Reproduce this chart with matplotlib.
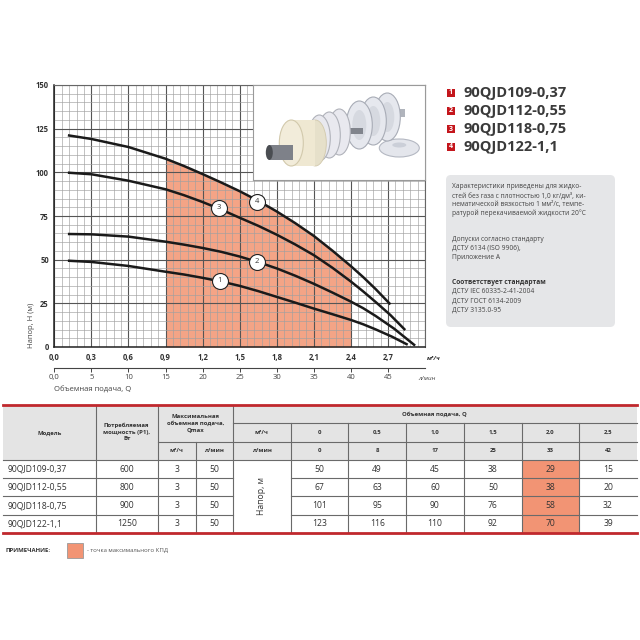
import numpy as np
import matplotlib
matplotlib.use("Agg")
import matplotlib.pyplot as plt
from matplotlib.patches import Rectangle, Ellipse, FancyBboxPatch
from matplotlib.ticker import FixedLocator, MultipleLocator, FuncFormatter

plt.rcParams['font.family'] = ['Open Sans', 'DejaVu Sans']

# ---- curves (Q in m3/h, H in m) ----
q1 = [0.11, 0.3, 0.6, 0.9, 1.05, 1.2, 1.35, 1.5, 1.65, 1.8, 1.95, 2.1, 2.25, 2.4, 2.5, 2.6, 2.73, 2.86]
h1 = [49.4, 48.7, 46.4, 43.1, 41.5, 39.6, 37.5, 35.0, 32.0, 28.7, 25.4, 22.0, 18.8, 15.5, 13.0, 10.1, 6.0, 1.3]
q2 = [0.11, 0.3, 0.6, 0.9, 1.05, 1.2, 1.35, 1.5, 1.65, 1.8, 1.95, 2.1, 2.25, 2.4, 2.5, 2.6, 2.75, 2.92]
h2 = [64.7, 64.5, 63.2, 60.3, 58.6, 56.7, 54.5, 51.8, 48.6, 45.0, 40.8, 36.2, 31.2, 26.0, 22.2, 17.8, 10.5, 0.8]
q3 = [0.11, 0.3, 0.6, 0.9, 1.05, 1.2, 1.35, 1.5, 1.65, 1.8, 1.95, 2.1, 2.25, 2.4, 2.5, 2.6, 2.72, 2.84]
h3 = [99.8, 98.9, 95.2, 90.3, 86.9, 83.0, 78.7, 74.0, 69.4, 64.3, 58.7, 52.6, 45.4, 37.5, 31.8, 25.8, 18.3, 9.7]
q4 = [0.11, 0.3, 0.6, 0.9, 1.05, 1.2, 1.35, 1.5, 1.65, 1.8, 1.95, 2.1, 2.25, 2.4, 2.5, 2.6, 2.72]
h4 = [121.2, 119.1, 114.5, 107.8, 103.6, 99.0, 94.2, 89.2, 83.7, 77.6, 70.9, 63.6, 55.2, 46.3, 40.0, 33.2, 24.4]

curve_ids = ['1', '2', '3', '4']
label_q = [1.34, 1.64, 1.335, 1.64]
label_h = [37.8, 48.8, 79.6, 83.2]

best_q = [0.9, 2.4]   # shaded zone

models = ['90QJD109-0,37', '90QJD112-0,55', '90QJD118-0,75', '90QJD122-1,1']
power = ['600', '800', '900', '1250']
qmax_m3 = ['3', '3', '3', '3']
qmax_lmin = ['50', '50', '50', '50']
q_m3_cols = ['0', '0,5', '1,0', '1,5', '2,0', '2,5']
q_lmin_cols = ['0', '8', '17', '25', '33', '42']
heads = [[50, 49, 45, 38, 29, 15],
         [67, 63, 60, 50, 38, 20],
         [101, 95, 90, 76, 58, 32],
         [123, 116, 110, 92, 70, 39]]
best_col = 4

info1 = ['Характеристики приведены для жидко-',
         'стей без газа с плотностью 1,0 кг/дм³, ки-',
         'нематической вязкостью 1 мм²/с, темпе-',
         'ратурой перекачиваемой жидкости 20°С']
info2 = ['Допуски согласно стандарту', 'ДСТУ 6134 (ISO 9906),', 'Приложение А']
info3 = ['Соответствует стандартам', 'ДСТУ IEC 60335-2-41-2004',
         'ДСТУ ГОСТ 6134-2009', 'ДСТУ 3135.0-95']

SALMON = '#F4A486'
SALMON_T = '#F29474'
RED = '#C4161C'
TXT = '#333333'

W = H = 640
fig = plt.figure(figsize=(6.4, 6.4), dpi=100)

# page layer in pixel coordinates
page = fig.add_axes([0, 0, 1, 1])
page.set_xlim(0, W)
page.set_ylim(H, 0)
page.axis('off')

# ---- main chart ----
L, R, T, B = 54.3, 425.0, 85.0, 347.0
ax = fig.add_axes([L / W, (H - B) / H, (R - L) / W, (B - T) / H])
ax.set_xlim(0, 3.0)
ax.set_ylim(0, 150)
ax.set_axisbelow(True)

major_q = [round(0.3 * i, 1) for i in range(11)]
ax.xaxis.set_major_locator(FixedLocator(major_q))
ax.xaxis.set_minor_locator(MultipleLocator(0.06))
ax.yaxis.set_major_locator(MultipleLocator(25))
ax.yaxis.set_minor_locator(MultipleLocator(5))
ax.xaxis.set_major_formatter(FuncFormatter(
    lambda v, p: '' if v > 2.95 else f'{v:.1f}'.replace('.', ',')))
ax.grid(which='minor', color='#a0a0a0', lw=0.45)
ax.grid(which='major', color='#555555', lw=0.8)
ax.tick_params(which='both', length=0)
ax.tick_params(axis='x', pad=4, labelsize=5.5, labelcolor=TXT)
ax.tick_params(axis='y', pad=4, labelsize=5.5, labelcolor=TXT)
for lab in ax.get_xticklabels() + ax.get_yticklabels():
    lab.set_fontweight('bold')
for s in ['left', 'bottom']:
    ax.spines[s].set_color('#222222')
    ax.spines[s].set_linewidth(1.1)
for s in ['top', 'right']:
    ax.spines[s].set_color('#666666')
    ax.spines[s].set_linewidth(0.8)

i0, i1 = q4.index(best_q[0]), q4.index(best_q[1])
ax.fill_between(q4[i0:i1 + 1], 0, h4[i0:i1 + 1], color=SALMON, lw=0, zorder=0.2)

for qq, hh in [(q1, h1), (q2, h2), (q3, h3), (q4, h4)]:
    ax.plot(qq, hh, color='#1a1a1a', lw=1.8, solid_capstyle='butt', solid_joinstyle='round', zorder=2)

for cid, lq, lh in zip(curve_ids, label_q, label_h):
    ax.plot(lq, lh, 'o', ms=11.5, mfc='white', mec='#222222', mew=0.8, zorder=3)
    ax.text(lq, lh, cid, ha='center', va='center', fontsize=5.5, color=TXT, zorder=4)

# l/min scale
sec = ax.secondary_xaxis(-0.079, functions=(lambda q: q * 50 / 3, lambda l: l * 3 / 50))
sec.xaxis.set_major_locator(FixedLocator([0, 5, 10, 15, 20, 25, 30, 35, 40, 45]))
sec.xaxis.set_major_formatter(FuncFormatter(lambda v, p: '0,0' if v == 0 else f'{v:.0f}'))
sec.tick_params(length=3, width=0.7, color='#444444', pad=1.5, labelsize=5.5, labelcolor='#444444')
sec.spines['bottom'].set_color('#444444')
sec.spines['bottom'].set_linewidth(0.8)

page.text(427, 358.5, 'м³/ч', fontsize=4.5, style='italic', fontweight='bold', color=TXT, va='center')
page.text(418, 378.5, 'л/мин', fontsize=4.5, style='italic', color='#444444', va='center')
page.text(54, 390, 'Объемная подача, Q', fontsize=5.5, color='#444444', va='center')
page.text(31.5, 325, 'Напор, H (м)', fontsize=5.5, color='#444444', rotation=90, ha='center', va='center')

# ---- picture of the pump parts (sketch) ----
ins = fig.add_axes([253.3 / W, (H - 180) / H, 171.7 / W, 95 / H])
ins.set_xlim(0, 171.7)
ins.set_ylim(95, 0)
ins.set_xticks([])
ins.set_yticks([])
for s in ins.spines.values():
    s.set_color('#9a9a9a')
    s.set_linewidth(0.8)
ins.add_patch(Ellipse((146, 63), 40, 18, fc='#E4E6EC', ec='#B4B8C2', lw=0.8))
ins.add_patch(Ellipse((146, 60), 14, 5, fc='#CBCFD8', ec='none'))
ins.add_patch(Rectangle((138, 24), 14, 8, fc='#B0B4BC', ec='none'))
for cx, cy in [(134, 32), (120, 36), (106, 40)]:
    ins.add_patch(Ellipse((cx, cy), 26, 48, fc='#E6E8EE', ec='#A8ACB6', lw=0.8))
    ins.add_patch(Ellipse((cx, cy), 14, 30, fc='#D6D9E0', ec='none'))
ins.add_patch(Rectangle((88, 43), 22, 6, fc='#80848C', ec='none'))
for cx, cy in [(86, 47), (76, 50), (66, 53)]:
    ins.add_patch(Ellipse((cx, cy), 22, 46, fc='#E9E9EF', ec='#B0B2BA', lw=0.8))
ins.add_patch(Ellipse((62, 58), 22, 46, fc='#E6E0CA', ec='#D2C9AC', lw=0.6))
ins.add_patch(Rectangle((38, 35), 24, 46, fc='#EFE8D2', ec='none'))
ins.add_patch(Ellipse((38, 58), 24, 46, fc='#F2ECDA', ec='#D2C9AC', lw=0.8))
ins.add_patch(Rectangle((16, 60), 24, 15, fc='#7E8189', ec='none'))
ins.add_patch(Ellipse((16, 67.5), 7, 15, fc='#4A4D52', ec='none'))

# ---- legend ----
leg_y = [92.7, 110.7, 129.0, 146.7]
for cid, name, yy in zip(curve_ids, models, leg_y):
    page.add_patch(Rectangle((446.5, yy - 4), 8, 8, fc=RED, ec='none'))
    page.text(450.5, yy + 0.2, cid, fontsize=5, color='white', fontweight='bold', ha='center', va='center')
    page.text(463, yy, name, fontsize=10.5, fontweight='bold', color='#3a3a3a', va='center')

# ---- info box ----
page.add_patch(FancyBboxPatch((446, 175), 169, 152, boxstyle='round,pad=0,rounding_size=5',
                              fc='#E5E6E8', ec='none'))
for txt, yy in zip(info1, [186.7, 195.7, 204.5, 213.3]):
    page.text(451.5, yy, txt, fontsize=4.8, color='#444444', va='center')
for txt, yy in zip(info2, [239.3, 248.3, 257.3]):
    page.text(451.5, yy, txt, fontsize=4.8, color='#444444', va='center')
for k, (txt, yy) in enumerate(zip(info3, [282.0, 291.3, 300.7, 310.0])):
    page.text(451.5, yy, txt, fontsize=4.8, color='#333333' if k == 0 else '#444444',
              va='center', fontweight='bold' if k == 0 else 'normal')

# ---- table ----
cols = [2.7, 95.7, 157.7, 195.7, 232.7, 290.7, 348.3, 406.0, 464.0, 521.7, 579.3, 636.7]
y_top, y_q1, y_q2, y_hdr = 405.0, 423.3, 441.7, 460.0
row_h = 18.2
y_bot = y_hdr + row_h * len(models)
LC = '#6a6a6a'

page.add_patch(Rectangle((cols[0], y_top), cols[-1] - cols[0], y_hdr - y_top, fc='#E4E4E4', ec='none'))
c0 = 5 + best_col
page.add_patch(Rectangle((cols[c0], y_hdr), cols[c0 + 1] - cols[c0], y_bot - y_hdr, fc=SALMON_T, ec='none'))

for c in [1, 2, 4]:
    page.plot([cols[c], cols[c]], [y_top, y_bot], color=LC, lw=0.8)
page.plot([cols[3], cols[3]], [y_q2, y_bot], color=LC, lw=0.8)
for c in range(5, 11):
    page.plot([cols[c], cols[c]], [y_q1, y_bot], color=LC, lw=0.8)
page.plot([cols[4], cols[-1]], [y_q1, y_q1], color=LC, lw=0.8)
page.plot([cols[2], cols[-1]], [y_q2, y_q2], color=LC, lw=0.8)
page.plot([cols[0], cols[-1]], [y_hdr, y_hdr], color=LC, lw=0.8)
for r in range(1, len(models)):
    yy = y_hdr + r * row_h
    page.plot([cols[0], cols[4]], [yy, yy], color=LC, lw=0.8)
    page.plot([cols[5], cols[-1]], [yy, yy], color=LC, lw=0.8)
page.plot([cols[0], cols[-1]], [y_top, y_top], color='#C0282D', lw=2)
page.plot([cols[0], cols[-1]], [y_bot, y_bot], color='#C0282D', lw=2)

hk = dict(fontsize=4.3, fontweight='bold', color=TXT, ha='center', va='center')
page.text((cols[0] + cols[1]) / 2, 433, 'Модель', **hk)
page.text((cols[1] + cols[2]) / 2, 432, 'Потребляемая\nмощность (P1),\nВт', linespacing=1.35, **hk)
page.text((cols[2] + cols[4]) / 2, 423, 'Максимальная\nобъемная подача,\nQmax', linespacing=1.35, **hk)
page.text((cols[2] + cols[3]) / 2, 451, 'м³/ч', **hk)
page.text((cols[3] + cols[4]) / 2, 451, 'л/мин', **hk)
page.text((cols[4] + cols[5]) / 2, 432.5, 'м³/ч', **hk)
page.text((cols[4] + cols[5]) / 2, 451, 'л/мин', **hk)
page.text((cols[4] + cols[-1]) / 2, 414.3, 'Объемная подача, Q', **hk)
for j in range(6):
    xc = (cols[5 + j] + cols[6 + j]) / 2
    page.text(xc, 432.5, q_m3_cols[j], **hk)
    page.text(xc, 451, q_lmin_cols[j], **hk)

dk = dict(fontsize=6.2, color=TXT, va='center')
for r in range(len(models)):
    yc = y_hdr + (r + 0.5) * row_h
    page.text(8, yc, models[r], ha='left', **dk)
    page.text((cols[1] + cols[2]) / 2, yc, power[r], ha='center', **dk)
    page.text((cols[2] + cols[3]) / 2, yc, qmax_m3[r], ha='center', **dk)
    page.text((cols[3] + cols[4]) / 2, yc, qmax_lmin[r], ha='center', **dk)
    for j in range(6):
        page.text((cols[5 + j] + cols[6 + j]) / 2, yc, str(heads[r][j]), ha='center', **dk)
page.text((cols[4] + cols[5]) / 2, (y_hdr + y_bot) / 2, 'Напор, м', rotation=90,
          fontsize=6.2, color=TXT, ha='center', va='center')

# ---- note ----
page.text(6, 550.5, 'ПРИМЕЧАНИЕ:', fontsize=4.3, fontweight='bold', color=TXT, va='center')
page.add_patch(Rectangle((66.7, 543), 16.6, 15, fc=SALMON_T, ec='#999999', lw=0.6))
page.text(87, 550.5, '- точка максимального КПД', fontsize=4.3, color='#555555', va='center')

fig.savefig('out.png', dpi=100)
